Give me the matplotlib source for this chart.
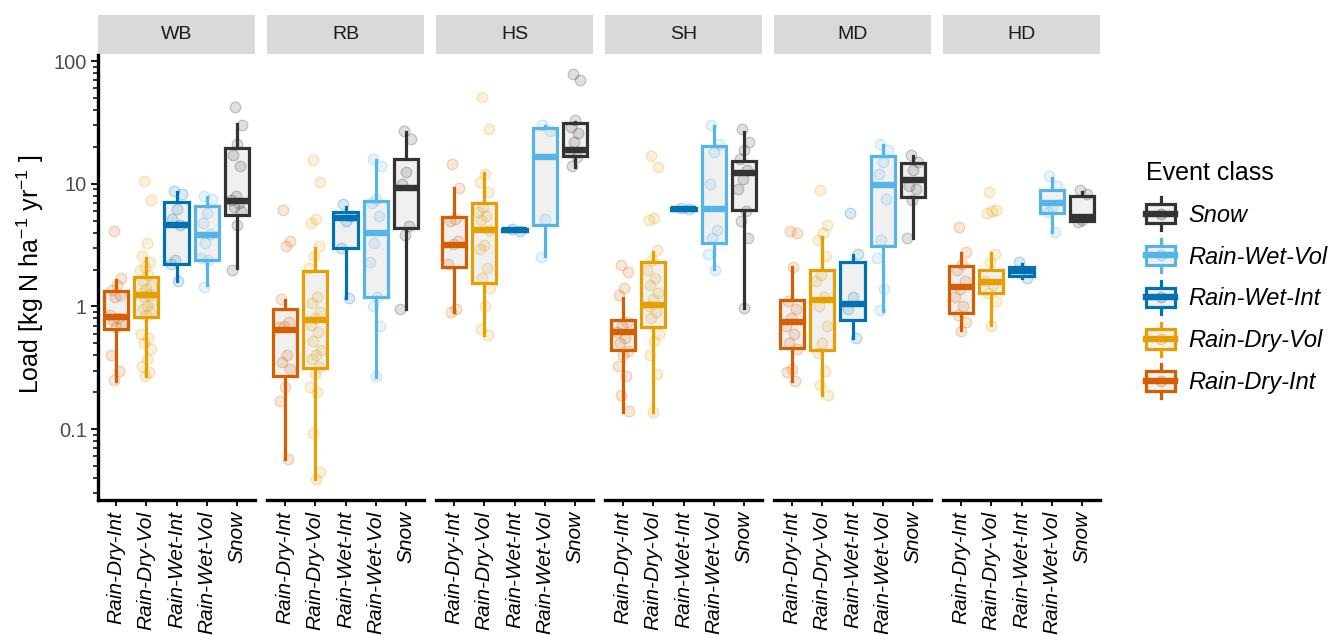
import numpy as np
import matplotlib
matplotlib.use("Agg")
import matplotlib.pyplot as plt
import matplotlib.ticker as mticker
from matplotlib.colors import to_rgba
from matplotlib.lines import Line2D
from matplotlib.patches import Rectangle
from matplotlib.legend_handler import HandlerBase

plt.rcParams['font.family'] = ['Liberation Sans', 'DejaVu Sans']
plt.rcParams['mathtext.fontset'] = 'custom'
plt.rcParams['mathtext.rm'] = 'Liberation Sans'
plt.rcParams['mathtext.it'] = 'Liberation Sans:italic'

sites = ["WB", "RB", "HS", "SH", "MD", "HD"]
classes = ["Rain-Dry-Int", "Rain-Dry-Vol", "Rain-Wet-Int", "Rain-Wet-Vol", "Snow"]
class_colors = ["#D55E00", "#E69F00", "#0072B2", "#56B4E9", "#333333"]

# box statistics, one row per site, one column per event class
q1 = [[0.656, 0.817, 2.21, 2.39, 5.57],
      [0.27, 0.313, 3.01, 1.19, 4.34],
      [2.11, 1.55, 4.1, 4.62, 16.8],
      [0.442, 0.685, 6.15, 3.27, 6.1],
      [0.462, 0.442, 0.776, 3.11, 7.85],
      [0.89, 1.28, 1.78, 5.82, 5.0]]
med = [[0.826, 1.24, 4.6, 3.83, 7.3],
       [0.644, 0.776, 5.24, 4.0, 9.2],
       [3.17, 4.2, 4.2, 16.6, 19.0],
       [0.624, 1.02, 6.24, 6.2, 12.2],
       [0.752, 1.12, 1.04, 9.8, 10.7],
       [1.45, 1.59, 1.95, 6.93, 5.4]]
q3 = [[1.34, 1.75, 7.15, 6.6, 19.5],
      [0.95, 1.95, 5.93, 7.28, 15.8],
      [5.33, 7.0, 4.3, 28.3, 31.5],
      [0.776, 2.32, 6.35, 20.4, 15.3],
      [1.14, 1.98, 2.32, 16.9, 14.7],
      [2.15, 1.98, 2.11, 8.9, 8.0]]
whislo = [[0.247, 0.273, 1.61, 1.5, 2.07],
          [0.057, 0.039, 1.18, 0.268, 0.95],
          [0.91, 0.59, 4.1, 2.58, 13.8],
          [0.137, 0.137, 6.15, 2.02, 0.98],
          [0.247, 0.19, 0.55, 0.925, 3.64],
          [0.644, 0.706, 1.72, 4.07, 5.0]]
whishi = [[1.63, 2.47, 8.5, 7.85, 30.5],
          [1.13, 3.0, 6.5, 15.6, 26.3],
          [9.2, 12.2, 4.3, 29.5, 32.0],
          [1.18, 2.8, 6.35, 29.6, 26.6],
          [2.11, 3.7, 2.63, 20.7, 16.8],
          [2.71, 2.71, 2.2, 11.1, 8.5]]

# individual event loads per site, in the order of `classes`
pts_WB = [[4.15, 1.7, 1.5, 1.35, 1.25, 1.2, 0.85, 0.8, 0.78, 0.72, 0.68, 0.4, 0.3, 0.25],
          [10.5, 7.4, 3.3, 2.6, 2.3, 2.1, 2.0, 1.8, 1.6, 1.5, 1.4, 1.3, 1.25, 1.2, 1.1,
           1.0, 0.95, 0.9, 0.85, 0.6, 0.55, 0.5, 0.45, 0.37, 0.33, 0.29, 0.27],
          [8.8, 8.3, 6.2, 5.2, 4.6, 2.4, 2.2, 1.6],
          [8.0, 7.5, 5.8, 4.8, 3.9, 3.3, 2.5, 2.4, 1.45],
          [42, 30, 21, 17, 14, 8.0, 7.4, 7.0, 6.5, 6.0, 4.6, 2.0]]
pts_RB = [[6.1, 3.4, 3.1, 1.15, 0.75, 0.7, 0.68, 0.4, 0.35, 0.31, 0.22, 0.17, 0.057],
          [15.6, 10.4, 5.2, 4.8, 3.1, 2.6, 2.05, 1.2, 1.06, 0.91, 0.8, 0.71, 0.62, 0.52,
           0.44, 0.4, 0.37, 0.32, 0.28, 0.22, 0.2, 0.094, 0.045, 0.039],
          [6.9, 5.5, 5.0, 3.0, 1.17],
          [16, 14, 7.5, 7.0, 5.5, 3.3, 2.3, 1.2, 1.0, 0.7, 0.27],
          [27, 23, 12.5, 10, 4.5, 3.8, 0.95]]
pts_HS = [[14.4, 9.2, 5.2, 5.0, 3.4, 3.2, 2.2, 0.95, 0.9],
          [50.7, 27.8, 12, 10.4, 8.6, 6.5, 5.9, 5.5, 5.07, 4.2, 3.17, 2.95, 2.05, 1.7,
           1.41, 1.0, 0.66, 0.59],
          [4.25, 4.15],
          [30, 27, 5.2, 2.55],
          [79, 70, 33, 29, 26, 22, 18, 16.5, 14]]
pts_SH = [[2.18, 1.92, 1.41, 1.24, 0.75, 0.7, 0.62, 0.55, 0.5, 0.43, 0.4, 0.33, 0.27, 0.19, 0.14],
          [16.9, 13.8, 5.3, 5.1, 2.9, 2.4, 2.0, 1.7, 1.5, 1.3, 1.15, 1.0, 0.9, 0.8, 0.6,
           0.52, 0.4, 0.28, 0.137],
          [6.3, 6.2],
          [30, 21, 18, 10, 4.2, 3.6, 2.7, 2.0],
          [28, 22, 19, 16, 13, 11, 9, 6.0, 5.0, 3.6, 0.97]]
pts_MD = [[4.1, 4.0, 2.1, 1.1, 0.95, 0.8, 0.7, 0.6, 0.5, 0.45, 0.31, 0.29, 0.245],
          [8.9, 4.6, 4.0, 3.5, 2.6, 1.8, 1.6, 1.2, 1.0, 0.7, 0.5, 0.42, 0.3, 0.23, 0.19],
          [5.8, 2.7, 1.2, 0.95, 0.55],
          [21, 19, 15, 12, 7.5, 3.5, 2.5, 1.4, 0.93],
          [17.3, 15, 13, 9.5, 9, 7.4, 3.6]]
pts_HD = [[4.47, 2.8, 2.2, 2.0, 1.6, 1.4, 1.2, 1.0, 0.85, 0.75, 0.63],
          [8.6, 6.1, 6.0, 5.8, 2.7, 2.3, 1.6, 1.5, 1.3, 1.1, 0.7],
          [2.3, 1.7],
          [11.5, 9.5, 6.5, 5.9, 4.05],
          [8.9, 8.3, 5.1, 4.9]]
site_points = [pts_WB, pts_RB, pts_HS, pts_SH, pts_MD, pts_HD]

BOX_LW = 2.3
BOX_FILL = "#F0F0F0"
FIG_W, FIG_H = 1343, 635


def jitter(n, width=0.2):
    # evenly spread horizontal offsets so overlapping events stay visible
    k = np.arange(n)
    return ((k * 0.618034 + 0.31) % 1.0 - 0.5) * 2 * width


class BoxKey(HandlerBase):
    def create_artists(self, legend, orig_handle, xdescent, ydescent,
                       width, height, fontsize, trans):
        c = orig_handle.get_color()
        x0, y0 = -xdescent, -ydescent
        cx, cy = x0 + width / 2, y0 + height / 2
        stem = Line2D([cx, cx], [y0 - 0.35 * height, y0 + 1.35 * height],
                      color=c, lw=BOX_LW, transform=trans)
        box = Rectangle((x0, y0), width, height, facecolor=BOX_FILL,
                        edgecolor=c, lw=BOX_LW, transform=trans)
        mid = Line2D([x0, x0 + width], [cy, cy], color=c, lw=2 * BOX_LW,
                     transform=trans)
        dot = Line2D([cx], [cy], marker='o', ms=7.5, ls='none',
                     markerfacecolor=to_rgba(c, 0.2), markeredgecolor=to_rgba(c, 0.3),
                     transform=trans)
        return [stem, box, mid, dot]


fig = plt.figure(figsize=(FIG_W / 100, FIG_H / 100), dpi=100)

panel_w, panel_h = 157, 445
for i, site in enumerate(sites):
    left = (98 + 169 * i) / FIG_W
    ax = fig.add_axes([left, (FIG_H - 500) / FIG_H, panel_w / FIG_W, panel_h / FIG_H])
    ax.set_yscale('log')

    pts = site_points[i]
    for j, vals in enumerate(pts):
        c = class_colors[j]
        x = j + 1 + jitter(len(vals))
        ax.scatter(x, vals, s=58, facecolor=to_rgba(c, 0.15),
                   edgecolor=to_rgba(c, 0.25), linewidth=0.9, zorder=3)

    stats = []
    for j in range(len(classes)):
        stats.append(dict(q1=q1[i][j], med=med[i][j], q3=q3[i][j],
                          whislo=whislo[i][j], whishi=whishi[i][j]))
    bp = ax.bxp(stats, positions=range(1, 6), widths=0.8, patch_artist=True,
                showfliers=False, showcaps=False, manage_ticks=False)
    for j, c in enumerate(class_colors):
        bp['boxes'][j].set(facecolor=BOX_FILL, edgecolor=c, linewidth=BOX_LW, zorder=2)
        bp['medians'][j].set(color=c, linewidth=2 * BOX_LW, solid_capstyle='butt', zorder=2.5)
        for w in bp['whiskers'][2 * j:2 * j + 2]:
            w.set(color=c, linewidth=BOX_LW, zorder=1.5)

    ax.set_xlim(0.4, 5.6)
    ax.set_ylim(0.0265, 112)
    ax.set_xticks(range(1, 6))
    ax.set_xticklabels(classes, rotation=90, fontsize=15, style='italic')
    ax.tick_params(axis='x', length=4, width=1.3, color='black', pad=4)

    for s in ['top', 'right']:
        ax.spines[s].set_visible(False)
    ax.spines['bottom'].set_linewidth(2.4)

    if i == 0:
        ax.spines['left'].set_linewidth(2.4)
        ax.yaxis.set_major_locator(mticker.FixedLocator([0.1, 1, 10, 100]))
        ax.yaxis.set_major_formatter(mticker.FixedFormatter(["0.1", "1", "10", "100"]))
        ax.yaxis.set_minor_locator(mticker.LogLocator(base=10, subs=np.arange(2, 10)))
        ax.yaxis.set_minor_formatter(mticker.NullFormatter())
        ax.tick_params(axis='y', which='major', length=5, width=1.3,
                       labelsize=14.5, labelcolor='#4D4D4D', pad=3)
        ax.tick_params(axis='y', which='minor', length=3.5, width=1.1)
    else:
        ax.spines['left'].set_visible(False)
        ax.tick_params(axis='y', which='both', left=False, labelleft=False)

    # facet strip
    sb = 1 + 1 / panel_h
    sh = 39 / panel_h
    ax.add_patch(Rectangle((0, sb), 1, sh, transform=ax.transAxes,
                           facecolor='#D9D9D9', edgecolor='none', clip_on=False))
    ax.text(0.5, sb + sh / 2, site, transform=ax.transAxes, ha='center',
            va='center', fontsize=14, color='#1A1A1A')

fig.text(30 / FIG_W, 1 - 274 / FIG_H, "Load [kg N ha$^{-1}$ yr$^{-1}$ ]",
         rotation=90, ha='center', va='center', fontsize=18)

order = [4, 3, 2, 1, 0]
handles = [Line2D([], [], color=class_colors[k]) for k in order]
labels = [classes[k] for k in order]
leg = fig.legend(handles, labels, loc='upper left',
                 bbox_to_anchor=(1134 / FIG_W, 1 - 149 / FIG_H),
                 title='Event class', frameon=False, borderpad=0,
                 prop={'style': 'italic', 'size': 17}, title_fontsize=18,
                 handlelength=1.25, handleheight=0.9, labelspacing=0.8,
                 handletextpad=0.55, alignment='left',
                 handler_map={Line2D: BoxKey()})

fig.savefig("out.png", dpi=100, facecolor='white')
